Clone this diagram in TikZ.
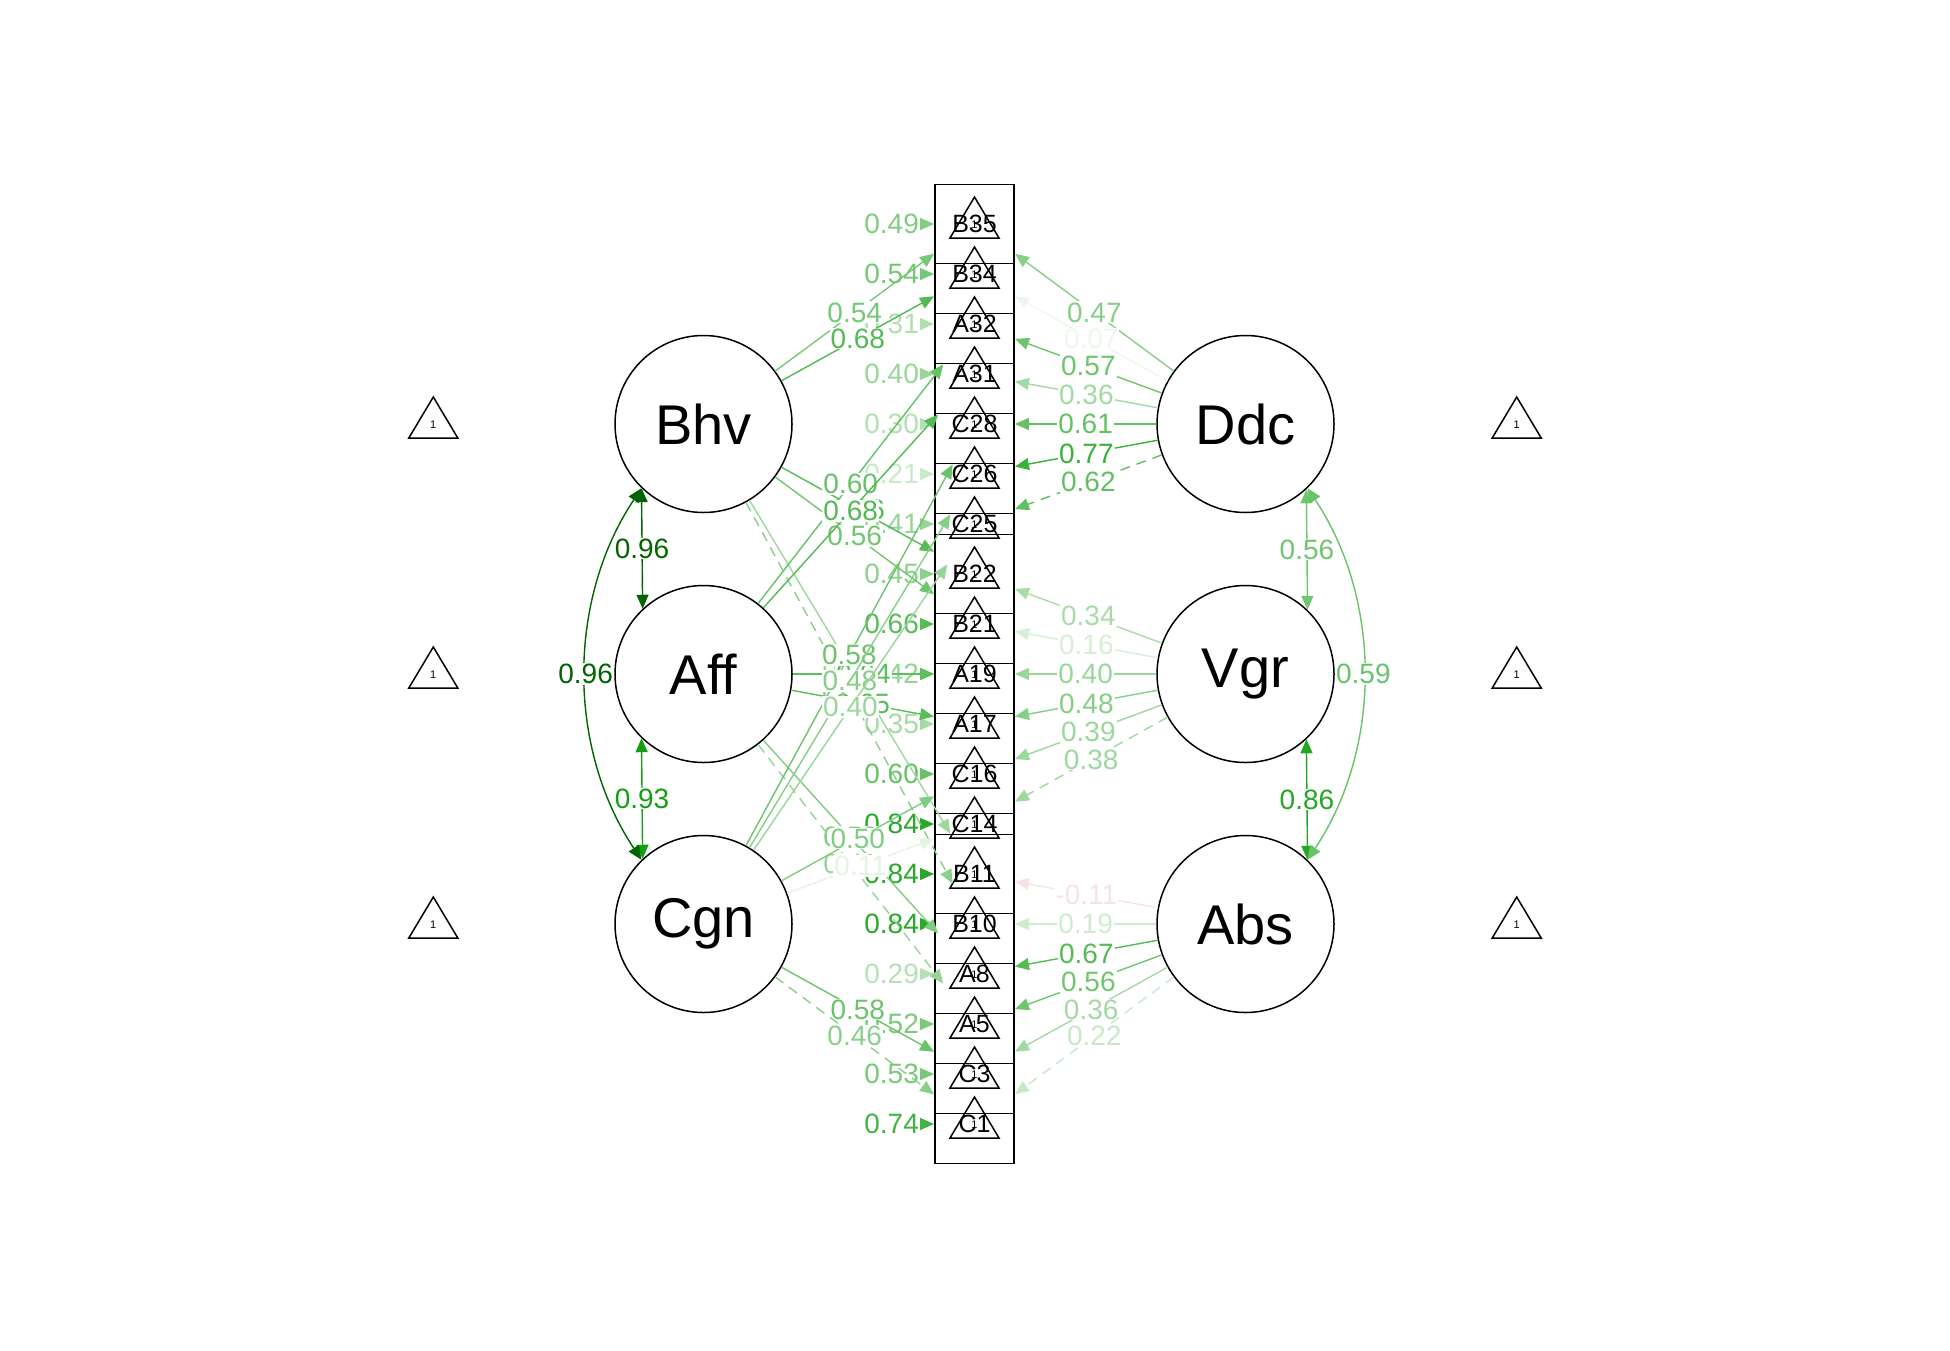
\documentclass[tikz,border=0pt]{standalone}
\usepackage{fontspec}
\setmainfont{Liberation Sans}
\usetikzlibrary{arrows.meta}
\definecolor{sg}{RGB}{0,153,0}
\definecolor{sr}{RGB}{191,0,0}
\definecolor{dg}{RGB}{0,100,0}
\tikzset{
	lat/.style={circle,draw,line width=1.5pt,fill=white,minimum size=177pt,inner sep=0pt,font=\fontsize{56}{60}\selectfont},
	itm/.style={rectangle,draw,line width=1.9pt,fill=white,minimum size=79pt,inner sep=0pt},
	itmtxt/.style={font=\fontsize{25}{28}\selectfont,inner sep=0pt},
	lbl/.style={fill=white,inner sep=1pt,font=\fontsize{28}{30}\selectfont},
	one/.style={font=\fontsize{11}{12}\selectfont,inner sep=0pt},
	edg/.style={line width=1.4pt,-{Triangle[length=14pt,width=12pt]}},
	cov/.style={line width=1.4pt,{Triangle[length=14pt,width=12pt]}-{Triangle[length=14pt,width=12pt]}},
	fixd/.style={dash pattern=on 10pt off 7pt}
}
% intercept triangle with its 1
\newcommand{\meantri}[1]{%
	\draw[line width=1.5pt] ([shift={(-24.5,-14)}]#1) -- ([shift={(0,27)}]#1) -- ([shift={(24.5,-14)}]#1) -- cycle;
	\node[one] at ([shift={(0,-1)}]#1) {1};}
% loading: [dash]{latent}{item}{value}{colour}
\newcommand{\loadedge}[5][]{\draw[edg,#5,#1] (#2) -- node[lbl,text=#5] {#4} (#3);}
% residual: {item}{value}{colour}
\newcommand{\resid}[3]{%
	\draw[edg,#3] ([xshift=-14pt]#1.west) coordinate (r#1) -- (#1.west);
	\node[lbl,text=#3,anchor=east] at (r#1) {#2};}
\begin{document}
\begin{tikzpicture}[x=1pt,y=1pt]
\useasboundingbox (0,0) rectangle (1950,-1350);

% items, drawn so the overlaps come out right
\foreach \n/\i in {C25/6,C14/12,C1/18,C3/17,A5/16,A8/15,B10/14,B11/13,C16/11,A17/10,A19/9,B21/8,B22/7,C26/5,C28/4,A31/3,A32/2,B34/1,B35/0}
	\node[itm] (\n) at (974.5,{-224-50*\i}) {};

% latents
\node[lat] (Bhv) at (703.5,-424) {Bhv};
\node[lat] (Aff) at (703.5,-674) {Aff};
\node[lat] (Cgn) at (703.5,-924) {Cgn};
\node[lat] (Ddc) at (1245.5,-424) {Ddc};
\node[lat] (Vgr) at (1245.5,-674) {Vgr};
\node[lat] (Abs) at (1245.5,-924) {Abs};

% intercepts
\coordinate (iBhv) at (433.3,-424);
\coordinate (iAff) at (433.3,-674);
\coordinate (iCgn) at (433.3,-924);
\coordinate (iDdc) at (1516.7,-424);
\coordinate (iVgr) at (1516.7,-674);
\coordinate (iAbs) at (1516.7,-924);
\foreach \n in {iBhv,iAff,iCgn,iDdc,iVgr,iAbs}
	\meantri{\n};
\foreach \n in {B35,B34,A32,A31,C28,C26,C25,B22,B21,A19,A17,C16,C14,B11,B10,A8,A5,C3,C1}{
	\meantri{\n.center}
	\node[itmtxt] at (\n) {\n};
}

% residuals
\resid{B35}{0.49}{sg!49}
\resid{B34}{0.54}{sg!54}
\resid{A32}{0.31}{sg!31}
\resid{A31}{0.40}{sg!40}
\resid{C28}{0.30}{sg!30}
\resid{C26}{0.21}{sg!21}
\resid{C25}{0.41}{sg!41}
\resid{B22}{0.45}{sg!45}
\resid{B21}{0.66}{sg!66}
\resid{A19}{0.42}{sg!42}
\resid{A17}{0.35}{sg!35}
\resid{C16}{0.60}{sg!60}
\resid{C14}{0.84}{sg!84}
\resid{B11}{0.84}{sg!84}
\resid{B10}{0.84}{sg!84}
\resid{A8}{0.29}{sg!29}
\resid{A5}{0.52}{sg!52}
\resid{C3}{0.53}{sg!53}
\resid{C1}{0.74}{sg!74}

% loadings, left
\loadedge{Bhv}{B35}{0.54}{sg!54}
\loadedge{Bhv}{B34}{0.68}{sg!68}
\loadedge{Bhv}{B22}{0.66}{sg!66}
\loadedge{Bhv}{B21}{0.56}{sg!56}
\loadedge{Bhv}{B11}{0.38}{sg!38}
\loadedge[fixd]{Bhv}{B10}{0.46}{sg!46}
\loadedge{Aff}{A32}{0.60}{sg!60}
\loadedge{Aff}{A31}{0.68}{sg!68}
\loadedge{Aff}{A19}{0.64}{sg!64}
\loadedge{Aff}{A17}{0.65}{sg!65}
\loadedge{Aff}{A8}{0.50}{sg!50}
\loadedge[fixd]{Aff}{A5}{0.41}{sg!41}
\loadedge{Cgn}{C28}{0.58}{sg!58}
\loadedge{Cgn}{C26}{0.48}{sg!48}
\loadedge{Cgn}{C25}{0.40}{sg!40}
\loadedge{Cgn}{C16}{0.50}{sg!50}
\loadedge{Cgn}{C14}{0.11}{sg!11}
\loadedge{Cgn}{C3}{0.58}{sg!58}
\loadedge[fixd]{Cgn}{C1}{0.46}{sg!46}

% loadings, right
\loadedge{Ddc}{B35}{0.47}{sg!47}
\loadedge{Ddc}{B34}{0.07}{sg!7}
\loadedge{Ddc}{A32}{0.57}{sg!57}
\loadedge{Ddc}{A31}{0.36}{sg!36}
\loadedge{Ddc}{C28}{0.61}{sg!61}
\loadedge{Ddc}{C26}{0.77}{sg!77}
\loadedge[fixd]{Ddc}{C25}{0.62}{sg!62}
\loadedge{Vgr}{B22}{0.34}{sg!34}
\loadedge{Vgr}{B21}{0.16}{sg!16}
\loadedge{Vgr}{A19}{0.40}{sg!40}
\loadedge{Vgr}{A17}{0.48}{sg!48}
\loadedge{Vgr}{C16}{0.39}{sg!39}
\loadedge[fixd]{Vgr}{C14}{0.38}{sg!38}
\loadedge{Abs}{B11}{-0.11}{sr!11}
\loadedge{Abs}{B10}{0.19}{sg!19}
\loadedge{Abs}{A8}{0.67}{sg!67}
\loadedge{Abs}{A5}{0.56}{sg!56}
\loadedge{Abs}{C3}{0.36}{sg!36}
\loadedge[fixd]{Abs}{C1}{0.22}{sg!22}

% covariances
\draw[cov,dg] (Bhv.226.9) -- node[lbl,text=dg] {0.96} (Aff.133.1);
\draw[cov,sg!93] (Aff.226.9) -- node[lbl,text=sg!93] {0.93} (Cgn.133.1);
\draw[cov,dg] (Bhv.226) .. controls (567,-600) and (567,-748) .. (Cgn.134) node[lbl,text=dg,pos=0.5] {0.96};
\draw[cov,sg!56] (Ddc.313.1) -- node[lbl,text=sg!56] {0.56} (Vgr.46.9);
\draw[cov,sg!86] (Vgr.313.1) -- node[lbl,text=sg!86] {0.86} (Abs.46.9);
\draw[cov,sg!59] (Ddc.314) .. controls (1382,-600) and (1382,-748) .. (Abs.46) node[lbl,text=sg!59,pos=0.5] {0.59};
\end{tikzpicture}
\end{document}
